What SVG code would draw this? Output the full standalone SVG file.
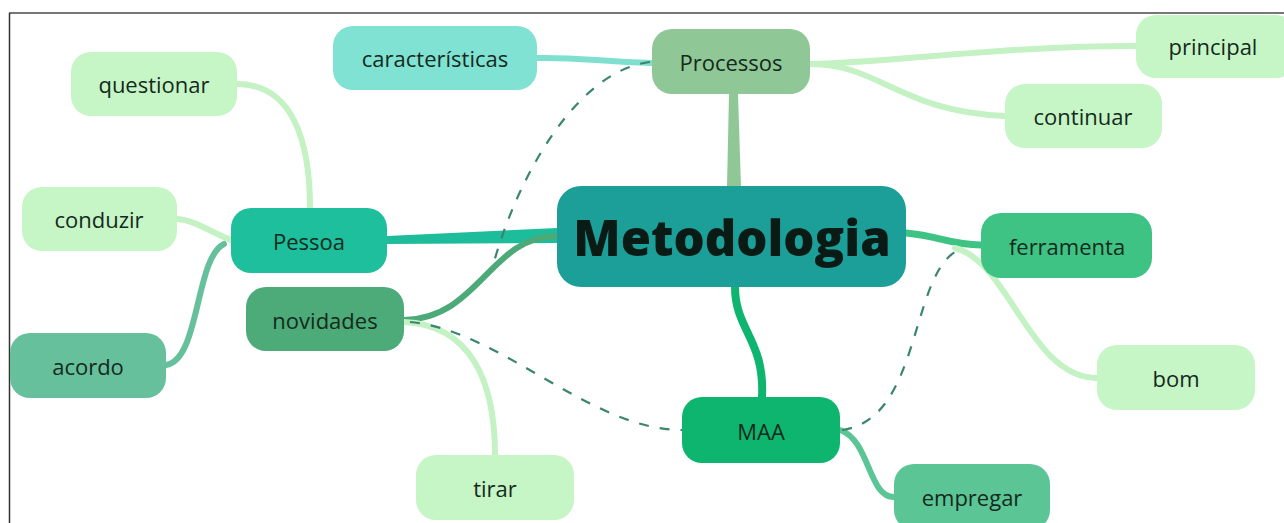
<svg xmlns="http://www.w3.org/2000/svg" width="1284" height="523" viewBox="0 0 1284 523">
<style>
.n text{font-family:"Open Sans","Noto Sans",sans-serif;font-size:22px;font-weight:500;fill:#142a1c;text-anchor:middle;dominant-baseline:central}
.c{fill:none;stroke-linecap:round}
.lt{stroke:#c4f2c4;stroke-width:6}
.d{fill:none;stroke:#3a8570;stroke-width:2.2;stroke-dasharray:10 11}
</style>
<rect width="1284" height="523" fill="#fff"/>
<line x1="9" y1="13" x2="1284" y2="13" stroke="#777" stroke-width="2"/>
<line x1="9.5" y1="13" x2="9.5" y2="523" stroke="#333" stroke-width="1.5"/>
<g id="connectors">
<path class="c" d="M652,63 C600,62 580,57 537,58" stroke="#80e0d0" stroke-width="6"/>
<polygon points="729,94 738,94 741,187 727,187" fill="#8fc796"/>
<path class="c lt" d="M810,64 C900,62 1000,46 1136,46"/>
<path class="c lt" d="M810,64 C880,64 900,112 1005,116"/>
<path class="c lt" d="M310,208 C310,140 292,84 237,84"/>
<path class="c lt" d="M231,240 C210,232 195,220 177,219"/>
<path class="c" d="M224,244 C195,258 200,360 166,365" stroke="#66c09c" stroke-width="6"/>
<polygon points="557,228 557,243 387,244 387,236" fill="#1dbc9a"/>
<path class="c" d="M557,236 C490,236 480,318 404,320" stroke="#4caa78" stroke-width="6"/>
<path class="c lt" d="M404,322 C470,325 495,380 495,455"/>
<path class="c" d="M906,233 C940,236 950,245 981,245" stroke="#3ec384" stroke-width="7"/>
<path class="c lt" d="M955,248 C1010,262 1030,378 1097,378"/>
<path class="c" d="M735,287 C735,330 765,340 762,397" stroke="#0db56e" stroke-width="8"/>
<path class="c" d="M840,430 C870,440 868,497 894,497" stroke="#5cc595" stroke-width="6"/>
<path class="d" d="M650,62 C580,70 520,170 494,262"/>
<path class="d" d="M410,322 C500,330 590,430 682,430"/>
<path class="d" d="M842,430 C920,420 910,280 955,252"/>
</g>
<g id="caracteristicas" class="n"><rect x="333" y="26" width="204" height="64" rx="20" fill="#80e2d2"/><text x="435" y="58">características</text></g>
<g id="processos" class="n"><rect x="652" y="29" width="158" height="65" rx="20" fill="#8fc796"/><text x="731" y="62">Processos</text></g>
<g id="principal" class="n"><rect x="1136" y="15" width="160" height="63" rx="20" fill="#c6f5c6"/><text x="1213" y="46">principal</text></g>
<g id="continuar" class="n"><rect x="1005" y="84" width="157" height="64" rx="20" fill="#c6f5c6"/><text x="1083" y="116">continuar</text></g>
<g id="questionar" class="n"><rect x="71" y="52" width="166" height="64" rx="20" fill="#c6f5c6"/><text x="154" y="84">questionar</text></g>
<g id="conduzir" class="n"><rect x="22" y="187" width="155" height="64" rx="20" fill="#c6f5c6"/><text x="99" y="219">conduzir</text></g>
<g id="pessoa" class="n"><rect x="231" y="208" width="156" height="65" rx="20" fill="#1dbf9d"/><text x="309" y="241">Pessoa</text></g>
<g id="novidades" class="n"><rect x="246" y="287" width="158" height="64" rx="20" fill="#4daa79"/><text x="325" y="320">novidades</text></g>
<g id="acordo" class="n"><rect x="10" y="333" width="156" height="65" rx="20" fill="#66c09c"/><text x="88" y="366">acordo</text></g>
<g id="metodologia" class="n"><rect x="557" y="186" width="349" height="101" rx="24" fill="#1b9f98"/><text x="732" y="237" style="font-size:49px;font-weight:800;fill:#0a1a14">Metodologia</text></g>
<g id="ferramenta" class="n"><rect x="981" y="213" width="171" height="65" rx="20" fill="#3ec384"/><text x="1067" y="246">ferramenta</text></g>
<g id="bom" class="n"><rect x="1097" y="345" width="158" height="65" rx="20" fill="#c6f5c6"/><text x="1176" y="378">bom</text></g>
<g id="maa" class="n"><rect x="682" y="397" width="158" height="66" rx="20" fill="#0db56e"/><text x="761" y="431">MAA</text></g>
<g id="tirar" class="n"><rect x="416" y="455" width="158" height="65" rx="20" fill="#c6f5c6"/><text x="495" y="488">tirar</text></g>
<g id="empregar" class="n"><rect x="894" y="464" width="156" height="66" rx="20" fill="#5cc595"/><text x="972" y="497">empregar</text></g>
</svg>
